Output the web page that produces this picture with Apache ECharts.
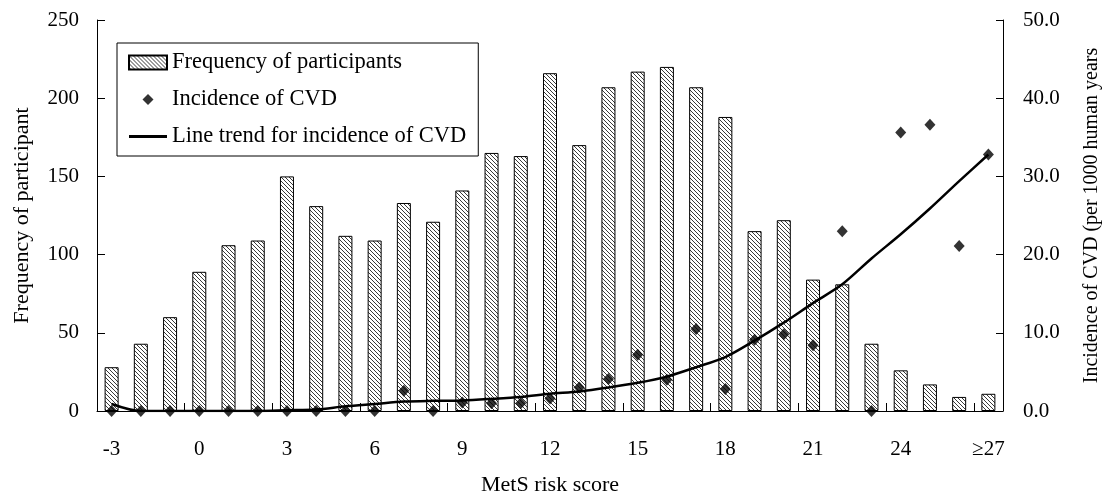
<!DOCTYPE html>
<html>
<head>
<meta charset="utf-8">
<script src="https://cdn.jsdelivr.net/npm/echarts@6/dist/echarts.min.js"></script>
<style>html,body{margin:0;padding:0;background:#fff}#c{width:1110px;height:501px}</style>
</head>
<body>
<div id="c"></div>
<script>
const categories = ['-3','-2','-1','0','1','2','3','4','5','6','7','8','9','10','11','12','13','14','15','16','17','18','19','20','21','22','23','24','25','26','\u226527'];
const frequency = [28,43,60,89,106,109,150,131,112,109,133,121,141,165,163,216,170,207,217,220,207,188,115,122,84,81,43,26,17,9,11];
const incidence = [0,0,0,0,0,0,0,0,0,0,2.6,0,1.1,1.0,1.0,1.6,3.0,4.1,7.2,4.0,10.5,2.8,9.1,9.8,8.4,23.0,0,35.6,36.6,21.1,32.8];
const trend = [0.9,0,0,0,0,0,0.1,0.2,0.6,0.9,1.2,1.3,1.35,1.55,1.8,2.2,2.5,3.0,3.6,4.4,5.6,6.9,9.0,11.3,13.8,16.2,19.5,22.6,25.9,29.4,32.8];
const leftTicks = {min:0, max:250, interval:50};
const rightTicks = {min:0, max:50, interval:10};
const seriesNames = ['Frequency of participants','Incidence of CVD','Line trend for incidence of CVD'];
const axisNames = {x:'MetS risk score', yl:'Frequency of participant', yr:'Incidence of CVD (per 1000 human years'};

// hatch pattern
function makeHatch(){
  const n = 4;
  const cv = document.createElement('canvas');
  cv.width = n; cv.height = n;
  const ctx = cv.getContext('2d');
  ctx.fillStyle = '#fff'; ctx.fillRect(0,0,n,n);
  ctx.fillStyle = '#3a3a3a';
  for (let i=0;i<n;i++){ ctx.fillRect(i,i,1,1); }
  return cv;
}
const hatch = makeHatch();
const FONT = 'Liberation Serif';
const chart = echarts.init(document.getElementById('c'), null, {renderer:'canvas'});
chart.setOption({
  animation:false,
  backgroundColor:'#fff',
  textStyle:{fontFamily:FONT, color:'#000'},
  grid:{left:97, right:102, top:20, bottom:86, containLabel:false},
  legend:{
    left:117, top:43, orient:'vertical',
    backgroundColor:'#fff', borderColor:'#000', borderWidth:1,
    padding:[8,12,8,11], itemGap:14, itemWidth:38, itemHeight:14,
    textStyle:{fontFamily:FONT, fontSize:22.5, color:'#000'},
    data:[
      {name:seriesNames[0], icon:'rect'},
      {name:seriesNames[1], icon:'path://M0,0M38,14M19,1.5L24.5,7L19,12.5L13.5,7Z'},
      {name:seriesNames[2], icon:'path://M0,0M38,14M0,5.5L38,5.5L38,8.5L0,8.5Z'}
    ]
  },
  xAxis:{
    type:'category', data:categories, boundaryGap:true,
    name:axisNames.x, nameLocation:'middle', nameGap:63,
    nameTextStyle:{fontFamily:FONT, fontSize:22, color:'#000'},
    axisLine:{lineStyle:{color:'#000', width:1}},
    axisTick:{show:true, inside:true, interval:2, length:8, lineStyle:{color:'#000'}},
    axisLabel:{interval:2, margin:28, fontFamily:FONT, fontSize:21, color:'#000'},
    splitLine:{show:false}
  },
  yAxis:[
    {type:'value', min:leftTicks.min, max:leftTicks.max, interval:leftTicks.interval,
     name:axisNames.yl, nameLocation:'middle', nameGap:64,
     nameTextStyle:{fontFamily:FONT, fontSize:22, color:'#000'},
     axisLine:{show:true, lineStyle:{color:'#000'}},
     axisTick:{show:true, inside:true, length:8, lineStyle:{color:'#000'}},
     axisLabel:{margin:18, fontFamily:FONT, fontSize:21, color:'#000'},
     splitLine:{show:false}},
    {type:'value', min:rightTicks.min, max:rightTicks.max, interval:rightTicks.interval,
     name:axisNames.yr, nameLocation:'middle', nameGap:79,
     nameTextStyle:{fontFamily:FONT, fontSize:20, color:'#000'},
     axisLine:{show:true, lineStyle:{color:'#000'}},
     axisTick:{show:true, inside:true, length:7, lineStyle:{color:'#000'}},
     axisLabel:{margin:20, fontFamily:FONT, fontSize:21, color:'#000', formatter:v=>v.toFixed(1)},
     splitLine:{show:false}}
  ],
  series:[
    {name:seriesNames[0], type:'bar', data:frequency, yAxisIndex:0, barWidth:14,
     itemStyle:{color:{image:hatch, repeat:'repeat'}, borderColor:'#000', borderWidth:1}},
    {name:seriesNames[2], type:'line', data:trend, yAxisIndex:1, smooth:0.3, showSymbol:false, symbol:'none',
     lineStyle:{color:'#000', width:2.5}, itemStyle:{color:'#000'}, z:3},
    {name:seriesNames[1], type:'scatter', data:incidence, yAxisIndex:1, symbol:'diamond', symbolSize:[11,12],
     itemStyle:{color:'#000'}, z:4}
  ]
});
</script>
</body>
</html>
